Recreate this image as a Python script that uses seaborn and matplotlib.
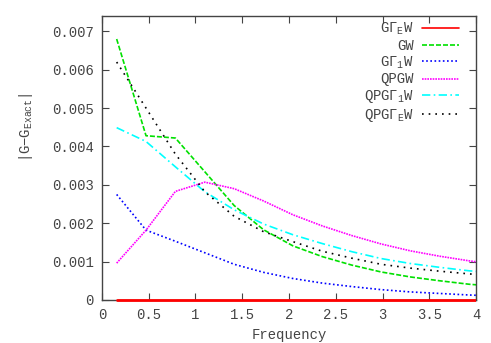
import pandas as pd
import matplotlib
matplotlib.use("Agg")
import matplotlib.pyplot as plt
from matplotlib.patches import Rectangle
import seaborn as sns

# Matsubara-like frequency grid
freq = [0.157, 0.471, 0.785, 1.100, 1.414, 1.728, 2.042, 2.356,
        2.670, 2.985, 3.299, 3.613, 3.927, 4.241]

g_gamma_e_w = [0.0] * 14
gw = [0.00680, 0.00428, 0.00422, 0.00334, 0.00246, 0.00183, 0.00141,
      0.00113, 0.00091, 0.00073, 0.00060, 0.00050, 0.00041, 0.00035]
g_gamma1_w = [0.00275, 0.00182, 0.00153, 0.00123, 0.00093, 0.00072, 0.00056,
              0.00044, 0.00035, 0.00027, 0.00021, 0.00017, 0.00013, 0.00010]
qpgw = [0.00096, 0.00182, 0.00283, 0.00307, 0.00290, 0.00258, 0.00222,
        0.00193, 0.00168, 0.00146, 0.00128, 0.00114, 0.00102, 0.00092]
qpg_gamma1_w = [0.00449, 0.00413, 0.00347, 0.00282, 0.00235, 0.00198, 0.00170,
                0.00147, 0.00126, 0.00108, 0.00095, 0.00085, 0.00076, 0.00070]
qpg_gamma_e_w = [0.00620, 0.00500, 0.00380, 0.00282, 0.00218, 0.00178, 0.00152,
                 0.00127, 0.00109, 0.00093, 0.00083, 0.00075, 0.00068, 0.00062]

labels = [r"G$\mathregular{\Gamma_E}$W", "GW", r"G$\mathregular{\Gamma_1}$W",
          "QPGW", r"QPG$\mathregular{\Gamma_1}$W", r"QPG$\mathregular{\Gamma_E}$W"]
series = [g_gamma_e_w, gw, g_gamma1_w, qpgw, qpg_gamma1_w, qpg_gamma_e_w]
colors = ["#ff0000", "#00e000", "#0000ff", "#ff00ff", "#00ffff", "#000000"]
dash_styles = ["", (3, 1.2), (1, 1.5), (1, 0.6), (5, 2, 1, 2), (1, 3)]

# long format for seaborn
rows = []
for lab, vals in zip(labels, series):
    for f, v in zip(freq, vals):
        rows.append({"Frequency": f, "err": v, "method": lab})
df = pd.DataFrame(rows)

sns.set_style("ticks")
plt.rcParams["font.family"] = ["Liberation Mono", "DejaVu Sans Mono"]
plt.rcParams["mathtext.default"] = "regular"

fig = plt.figure(figsize=(4.91, 3.43), dpi=100)
ax = fig.add_axes([0.2077, 0.1254, 0.7618, 0.828])

sns.lineplot(data=df, x="Frequency", y="err", hue="method", style="method",
             hue_order=labels, style_order=labels,
             palette=dict(zip(labels, colors)),
             dashes=dict(zip(labels, dash_styles)),
             linewidth=1.2, ax=ax)

# thicker red line sitting on top of the x axis, clipped only left/right
red = ax.get_lines()[0]
red.set_linewidth(2.0)
red.set_zorder(3)
clip = Rectangle((0, -0.05), 1, 1.1, transform=ax.transAxes, visible=False)
ax.add_patch(clip)
red.set_clip_path(clip)

ax.set_xlim(0, 4)
ax.set_ylim(0, 0.0074)
ax.set_xticks([0, 0.5, 1, 1.5, 2, 2.5, 3, 3.5, 4])
ax.set_xticklabels(["0", "0.5", "1", "1.5", "2", "2.5", "3", "3.5", "4"])
ax.set_yticks([0, 0.001, 0.002, 0.003, 0.004, 0.005, 0.006, 0.007])
ax.set_yticklabels(["0", "0.001", "0.002", "0.003", "0.004", "0.005", "0.006", "0.007"])
ax.tick_params(direction="in", length=5, width=0.8, top=True, right=True,
               labelsize=10, colors="#444444", labelcolor="#444444", pad=6)
for sp in ax.spines.values():
    sp.set_visible(True)
    sp.set_color("#444444")
    sp.set_linewidth(1.0)

ax.set_xlabel("Frequency", fontsize=10, color="#444444", labelpad=4)
ax.set_ylabel(r"|G$-$G$_{\mathregular{Exact}}$|", fontsize=10, color="#444444")
ax.yaxis.set_label_coords(-0.18, 0.61)

handles, labs = ax.get_legend_handles_labels()
ax.legend(handles, labs, loc="upper right", bbox_to_anchor=(0.978, 1.013),
          frameon=False, markerfirst=False, fontsize=10, handlelength=2.7,
          labelspacing=0.12, handletextpad=0.6, labelcolor="#444444",
          borderaxespad=0.2)

fig.savefig("out.png", dpi=100)
